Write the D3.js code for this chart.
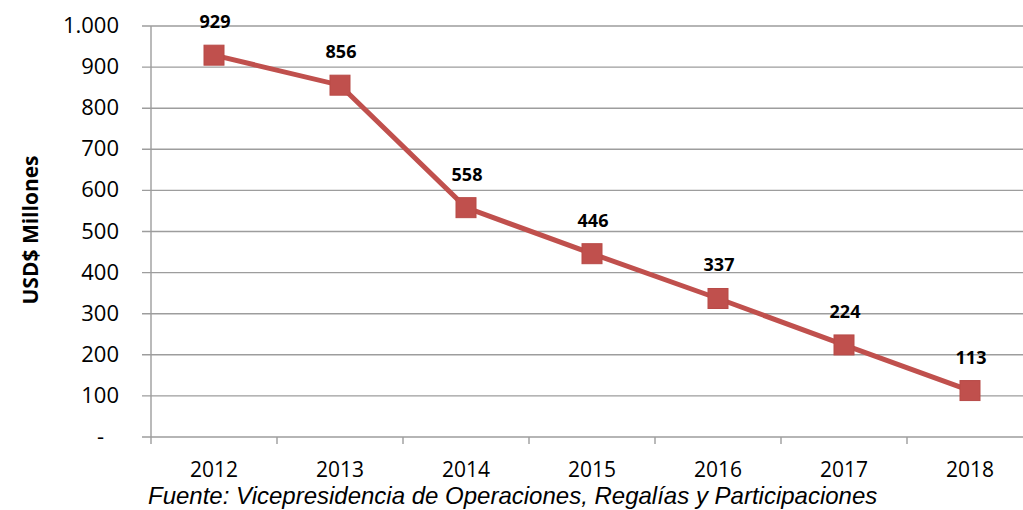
<!DOCTYPE html>
<html>
<head>
<meta charset="utf-8">
<script src="https://cdn.jsdelivr.net/npm/d3@7"></script>
<style>
  body { margin: 0; background: #fff; }
  svg { display: block; }
</style>
</head>
<body>
<div id="chart"></div>
<script>
// data
var years = ['2012', '2013', '2014', '2015', '2016', '2017', '2018'];
var values = [929, 856, 558, 446, 337, 224, 113];
var yTicks = [0, 100, 200, 300, 400, 500, 600, 700, 800, 900, 1000];

const W = 1023, H = 510;
const PLOT_LEFT = 151, PLOT_TOP = 26, PLOT_BOTTOM = 437;
const BAND = 126;

var svg = d3.select('#chart').append('svg')
            .attr('width', W)
            .attr('height', H);

var x = d3.scaleBand().domain(years).range([PLOT_LEFT, PLOT_LEFT + BAND * years.length]);
var y = d3.scaleLinear().domain([0, 1000]).range([PLOT_BOTTOM, PLOT_TOP]);

// gridlines
svg.append('g').selectAll('line').data(yTicks).enter()
   .append('line')
   .attr('x1', PLOT_LEFT - 9)
   .attr('x2', W)
   .attr('y1', d => y(d))
   .attr('y2', d => y(d))
   .attr('stroke', '#9d9d9d')
   .attr('stroke-width', 1.4);

// y axis line
svg.append('line')
   .attr('x1', PLOT_LEFT).attr('x2', PLOT_LEFT)
   .attr('y1', PLOT_TOP).attr('y2', PLOT_BOTTOM + 7)
   .attr('stroke', '#9d9d9d')
   .attr('stroke-width', 1.4);

// x ticks between categories
svg.append('g').selectAll('line').data(years.slice(1)).enter()
   .append('line')
   .attr('x1', d => x(d)).attr('x2', d => x(d))
   .attr('y1', PLOT_BOTTOM).attr('y2', PLOT_BOTTOM + 7)
   .attr('stroke', '#9d9d9d')
   .attr('stroke-width', 1.4);

// y tick labels
var fmt = d => d === 0 ? '-' : (d >= 1000 ? d3.format(',')(d).replace(',', '.') : d);
svg.append('g').selectAll('text').data(yTicks).enter()
   .append('text')
   .attr('x', d => d === 0 ? 104 : 119)
   .attr('y', d => y(d) + 7)
   .attr('text-anchor', 'end')
   .attr('font-family', 'Open Sans, sans-serif')
   .attr('font-size', 22)
   .attr('fill', '#000')
   .text(fmt);

// x tick labels
svg.append('g').selectAll('text').data(years).enter()
   .append('text')
   .attr('x', d => x(d) + x.bandwidth() / 2)
   .attr('y', 477)
   .attr('text-anchor', 'middle')
   .attr('font-family', 'Open Sans, sans-serif')
   .attr('font-size', 21)
   .attr('fill', '#000')
   .text(d => d);

// y axis title
svg.append('text')
   .attr('transform', 'translate(38,' + 230 + ') rotate(-90)')
   .attr('text-anchor', 'middle')
   .attr('font-family', 'Open Sans, sans-serif')
   .attr('font-weight', 'bold')
   .attr('font-size', 21)
   .text('USD$ Millones');

// line
var pts = years.map((d, i) => ({year: d, value: values[i]}));
var line = d3.line()
             .x(d => x(d.year) + x.bandwidth() / 2)
             .y(d => y(d.value));

svg.append('path')
   .datum(pts)
   .attr('d', line)
   .attr('fill', 'none')
   .attr('stroke', '#c0504d')
   .attr('stroke-width', 5);

// markers
const MS = 20;
svg.append('g').selectAll('rect').data(pts).enter()
   .append('rect')
   .attr('x', d => x(d.year) + x.bandwidth() / 2 - MS / 2)
   .attr('y', d => y(d.value) - MS / 2)
   .attr('width', MS)
   .attr('height', MS)
   .attr('fill', '#c0504d')
   .attr('stroke', '#b84a47')
   .attr('stroke-width', 1);

// data labels
svg.append('g').selectAll('text').data(pts).enter()
   .append('text')
   .attr('x', d => x(d.year) + x.bandwidth() / 2 + 1)
   .attr('y', d => y(d.value) - 27)
   .attr('text-anchor', 'middle')
   .attr('font-family', 'Open Sans, sans-serif')
   .attr('font-weight', 'bold')
   .attr('font-size', 18)
   .attr('fill', '#000')
   .text(d => d.value);

// source note
svg.append('text')
   .attr('x', 148)
   .attr('y', 504)
   .attr('font-family', 'Liberation Sans, Arial, sans-serif')
   .attr('font-style', 'italic')
   .attr('font-size', 24)
   .attr('fill', '#000')
   .text('Fuente: Vicepresidencia de Operaciones, Regalías y Participaciones');
</script>
</body>
</html>
